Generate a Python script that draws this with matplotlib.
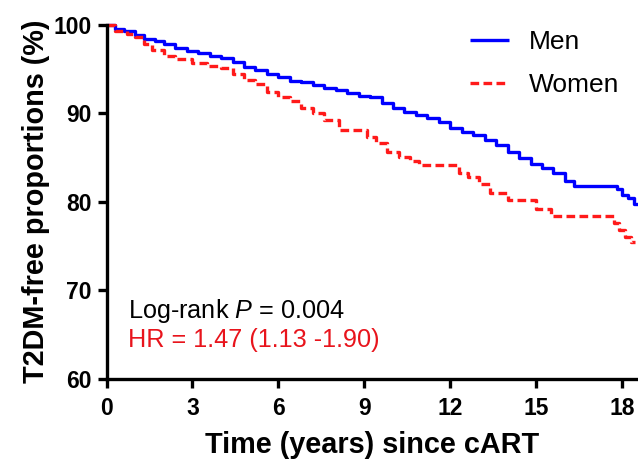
import matplotlib
matplotlib.use("Agg")
import matplotlib.pyplot as plt

plt.rcParams['font.family'] = ['Liberation Sans', 'DejaVu Sans']
plt.rcParams['mathtext.fontset'] = 'custom'
plt.rcParams['mathtext.rm'] = 'Liberation Sans'
plt.rcParams['mathtext.it'] = 'Liberation Sans:italic'

# Kaplan-Meier step data (time in years, T2DM-free %)
men_t = [0, 0.3, 0.6, 1.0, 1.3, 1.7, 2.0, 2.4, 2.8, 3.2, 3.6, 4.0, 4.4, 4.8, 5.2, 5.6,
         6.0, 6.4, 6.8, 7.2, 7.6, 8.0, 8.4, 8.8, 9.2, 9.6, 10.0, 10.4, 10.8, 11.2, 11.6,
         12.0, 12.4, 12.8, 13.2, 13.6, 14.0, 14.4, 14.8, 15.2, 15.6, 16.0, 16.3, 17.8,
         18.0, 18.2, 18.4, 18.55]
men_s = [100, 99.6, 99.3, 98.9, 98.4, 98.2, 97.8, 97.4, 97.1, 96.8, 96.5, 96.3, 95.8,
         95.3, 94.9, 94.5, 94.1, 93.7, 93.5, 93.2, 92.9, 92.6, 92.3, 92.0, 91.8, 91.2,
         90.6, 90.2, 89.8, 89.5, 89.0, 88.3, 87.9, 87.5, 87.0, 86.4, 85.6, 84.9, 84.3,
         83.8, 83.2, 82.3, 81.8, 81.4, 80.8, 80.4, 79.7, 79.7]

women_t = [0, 0.3, 0.7, 1.0, 1.3, 1.6, 2.0, 2.4, 3.0, 3.5, 4.0, 4.4, 4.8, 5.2, 5.6, 6.0,
           6.4, 6.8, 7.2, 7.6, 8.1, 9.1, 9.4, 9.8, 10.2, 10.6, 10.9, 12.3, 12.6, 13.0,
           13.4, 14.0, 15.0, 15.5, 17.7, 17.9, 18.1, 18.3, 18.45]
women_s = [100, 99.3, 99.0, 98.6, 97.9, 97.2, 96.5, 96.2, 95.7, 95.4, 95.1, 94.4, 93.8,
           93.3, 92.4, 91.8, 91.4, 90.6, 90.0, 89.2, 88.1, 87.3, 86.6, 85.6, 85.1, 84.6,
           84.2, 83.3, 82.8, 82.0, 81.0, 80.2, 79.2, 78.4, 77.6, 76.8, 76.0, 75.4, 75.4]

x_ticks = [0, 3, 6, 9, 12, 15, 18]
y_ticks = [60, 70, 80, 90, 100]

fig = plt.figure(figsize=(6.38, 4.61), dpi=100)
ax = fig.add_axes([106.5/638, 1-378.5/461, 1-106.5/638, (378.5-25)/461])

ax.plot(men_t, men_s, drawstyle='steps-post', color='#0000ff', lw=2.4,
        label='Men', solid_capstyle='butt', clip_on=False)
ax.plot(women_t, women_s, drawstyle='steps-post', color='#ff1a1a', lw=2.4,
        dashes=(2.6, 1.3), label='Women', clip_on=False)

ax.set_xlim(0, 18.55)
ax.set_ylim(60, 100)
ax.set_xticks(x_ticks)
ax.set_yticks(y_ticks)
for s in ['top', 'right']:
    ax.spines[s].set_visible(False)
for s in ['left', 'bottom']:
    ax.spines[s].set_linewidth(2.4)
ax.tick_params(width=2.4, length=6.5, labelsize=16.5)
ax.tick_params(axis='x', pad=7)
ax.tick_params(axis='y', pad=4)
for lab in ax.get_xticklabels() + ax.get_yticklabels():
    lab.set_fontweight('bold')

ax.set_xlabel('Time (years) since cART', fontsize=20.8, fontweight='bold', labelpad=8)
ax.set_ylabel('T2DM-free proportions (%)', fontsize=20.8, fontweight='bold', labelpad=3)

ax.text(0.75, 67.6, 'Log-rank $\\it{P}$ = 0.004', fontsize=18.2, color='black',
        va='center', ha='left')
ax.text(0.75, 64.3, 'HR = 1.47 (1.13 -1.90)', fontsize=18.2, color='#e8141c',
        va='center', ha='left')

leg = ax.legend(loc='upper left', bbox_to_anchor=(446/638, 1-6/461),
                bbox_transform=fig.transFigure, frameon=False, fontsize=19,
                handlelength=1.5, handletextpad=0.75, labelspacing=0.72)

fig.savefig('out.png', dpi=100)
